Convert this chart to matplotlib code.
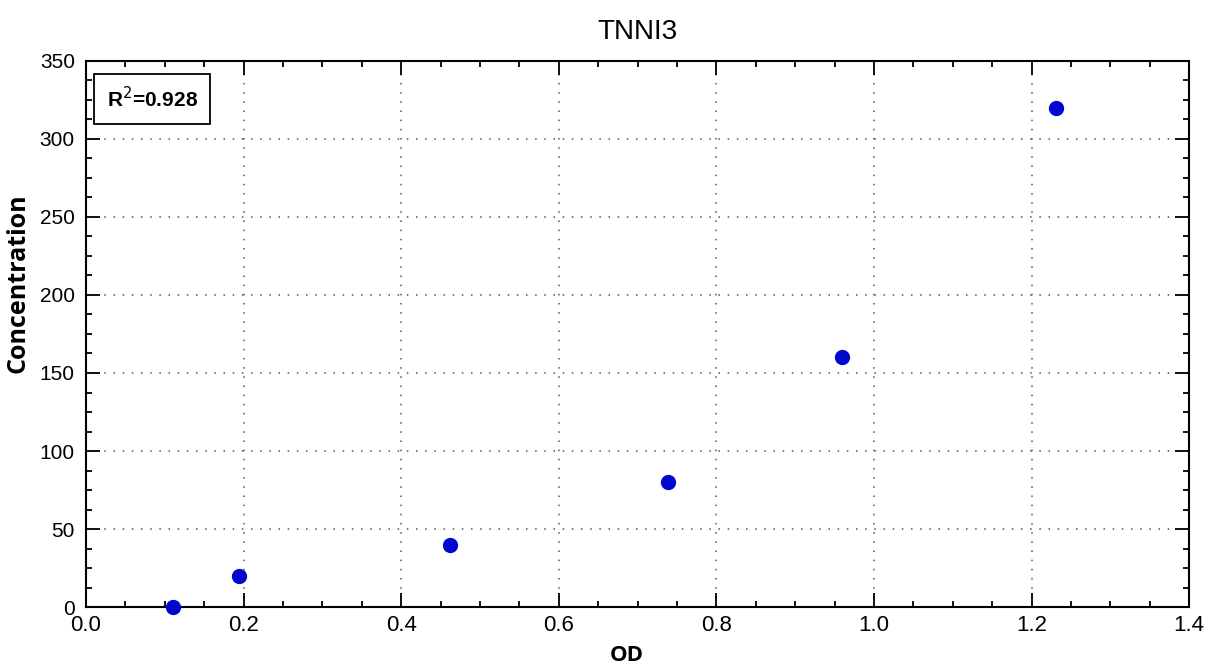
import matplotlib.pyplot as plt
from matplotlib.ticker import AutoMinorLocator

od = [0.110, 0.194, 0.462, 0.739, 0.959, 1.231]
conc = [0, 20, 40, 80, 160, 320]
x_ticks = [0, 0.2, 0.4, 0.6, 0.8, 1.0, 1.2, 1.4]
x_ticklabels = ["0.0", "0.2", "0.4", "0.6", "0.8", "1.0", "1.2", "1.4"]
y_ticks = [0, 50, 100, 150, 200, 250, 300, 350]
r2_label = "R$^2$=0.928"

plt.rcParams["font.family"] = ["Liberation Sans", "DejaVu Sans"]

fig = plt.figure(figsize=(12.11, 6.70), dpi=100)
ax = fig.add_axes([0.071, 0.094, 0.911, 0.815])

ax.plot(od, conc, "o", color="#0008d0", markersize=10, clip_on=False, zorder=3)

ax.set_xlim(0, 1.4)
ax.set_ylim(0, 350)
ax.set_xticks(x_ticks)
ax.set_xticklabels(x_ticklabels)
ax.set_yticks(y_ticks)
ax.xaxis.set_minor_locator(AutoMinorLocator(4))
ax.yaxis.set_minor_locator(AutoMinorLocator(4))
ax.tick_params(which="both", direction="in", top=True, right=True, width=1.3)
ax.tick_params(which="major", length=10)
ax.tick_params(which="minor", length=4)
ax.tick_params(axis="x", labelsize=16, pad=6)
ax.tick_params(axis="y", labelsize=15, pad=8)
ax.grid(True, which="major", linestyle=(0, (1, 5)), color="#555555", linewidth=1.1)
for s in ax.spines.values():
    s.set_linewidth(1.5)

ax.set_title("TNNI3", fontsize=20, pad=16)
ax.set_xlabel("OD", fontsize=16, fontweight="bold", family="Open Sans")
ax.set_ylabel("Concentration", fontsize=18, fontweight="bold", family="Open Sans")
ax.xaxis.set_label_coords(0.49, -0.070)
ax.yaxis.set_label_coords(-0.050, 0.593)

ax.text(0.019, 0.954, r2_label, transform=ax.transAxes, fontsize=15, fontweight="bold",
        va="top", ha="left",
        bbox=dict(boxstyle="square,pad=0.6", facecolor="white", edgecolor="black", linewidth=1.3))

fig.savefig("out.png", dpi=100)
